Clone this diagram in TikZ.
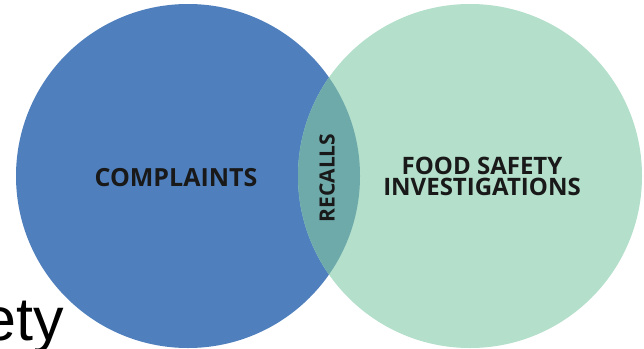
\documentclass[tikz,border=0pt]{standalone}
\usepackage{fontspec}
\setmainfont{Liberation Sans}
\newfontfamily\vennfont{Open Sans}
\usepackage{xcolor}
\definecolor{complaintblue}{RGB}{79,128,189}
\definecolor{safetygreen}{RGB}{179,223,203}
\definecolor{recallteal}{RGB}{111,170,171}

\begin{document}
\begin{tikzpicture}[x=1pt,y=-1pt,
	venntext/.style={font=\vennfont\bfseries, text=black!90, inner sep=0pt, align=center}]
	\useasboundingbox (0,0) rectangle (644,348);
	\clip (0,0) rectangle (644,348);

	% the two sets
	\coordinate (left) at (188,176);
	\coordinate (right) at (470,176);
	\fill[complaintblue] (left) circle (172pt);
	\fill[safetygreen] (right) circle (172pt);
	\begin{scope}
		\clip (left) circle (172pt);
		\fill[recallteal] (right) circle (172pt);
	\end{scope}

	\node (complaints) [venntext, font=\vennfont\bfseries\fontsize{25}{25}\selectfont] at (176,177.5) {COMPLAINTS};
	\node (investigations) [venntext, font=\vennfont\bfseries\fontsize{24}{21}\selectfont] at (482,176) {FOOD SAFETY\\INVESTIGATIONS};
	\node (recalls) [venntext, rotate=90, font=\vennfont\bfseries\fontsize{21}{21}\selectfont] at (327,178) {RECALLS};

	% left over from the slide title
	\node (ety) [anchor=base west, inner sep=0pt, font=\fontsize{61}{61}\selectfont] at (-18,340) {ety};
\end{tikzpicture}
\end{document}
